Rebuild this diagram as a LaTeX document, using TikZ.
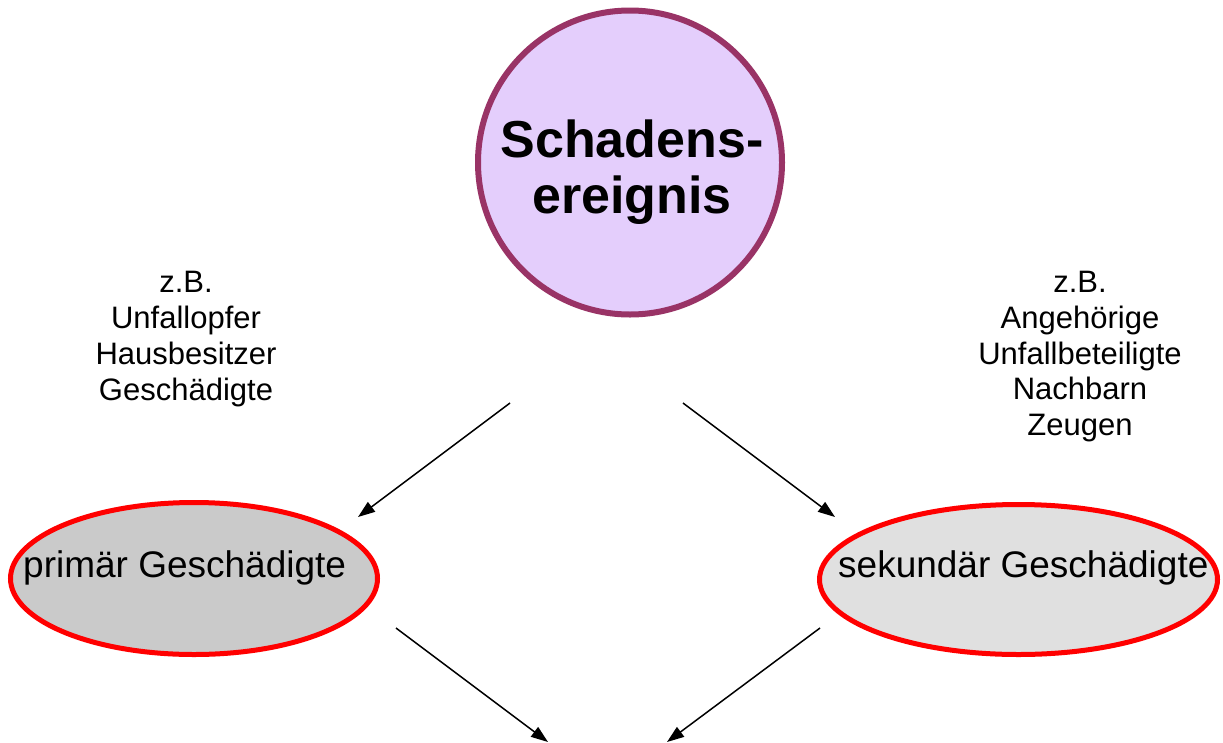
\documentclass[tikz,border=0pt]{standalone}
\usepackage{fontspec}
\setmainfont{Liberation Sans}
\usetikzlibrary{arrows.meta,shapes.geometric}
\definecolor{eventborder}{RGB}{153,51,102}
\definecolor{eventfill}{RGB}{228,206,252}
\definecolor{primfill}{RGB}{202,202,202}
\definecolor{sekfill}{RGB}{224,224,224}
\begin{document}
\begin{tikzpicture}[x=1pt,y=-1pt,
  eventcircle/.style={circle, draw=eventborder, line width=6pt, fill=eventfill, minimum size=304pt, inner sep=0pt},
  eventtext/.style={align=center, anchor=base, font=\fontsize{52}{56}\selectfont\bfseries},
  victim/.style={ellipse, draw=red, line width=5pt, inner sep=0pt},
  victimtext/.style={anchor=base west, font=\fontsize{37}{42}\selectfont, inner sep=0pt},
  note/.style={align=center, anchor=base, font=\fontsize{31}{35.7}\selectfont, inner sep=0pt},
  arr/.style={-{Triangle[length=17pt,width=12pt]}, line width=1.5pt}]
\useasboundingbox (0,0) rectangle (1223,742);
\fill[white] (0,0) rectangle (1223,742);

\node[eventcircle] (event) at (630,162.5) {};
\node[eventtext] (eventlabel) at (632,213) {Schadens-\\ereignis};

\node[victim, fill=primfill, minimum width=367pt, minimum height=152pt] (prim) at (194,578.5) {};
\node[victimtext] (primlabel) at (23,577) {primär Geschädigte};

\node[victim, fill=sekfill, minimum width=398pt, minimum height=150pt] (sek) at (1018.5,579.5) {};
\node[victimtext] (seklabel) at (838,577) {sekundär Geschädigte};

\node[note] (noteprim) at (186,400) {z.B.\\Unfallopfer\\Hausbesitzer\\Geschädigte};
\node[note] (notesek) at (1080,435.5) {z.B.\\Angehörige\\Unfallbeteiligte\\Nachbarn\\Zeugen};

\coordinate (a1s) at (510,403);
\coordinate (a1e) at (358,517);
\coordinate (a2s) at (683,403);
\coordinate (a2e) at (835,517);
\coordinate (a3s) at (396,628);
\coordinate (a3e) at (548,742);
\coordinate (a4s) at (820,628);
\coordinate (a4e) at (667,742);

\draw[arr] (a1s) -- (a1e);
\draw[arr] (a2s) -- (a2e);
\draw[arr] (a3s) -- (a3e);
\draw[arr] (a4s) -- (a4e);
\end{tikzpicture}
\end{document}
